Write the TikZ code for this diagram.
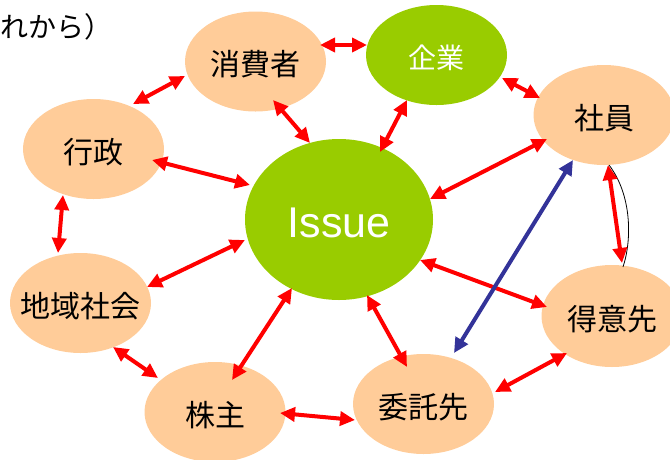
\documentclass[tikz,border=0pt]{standalone}
\usepackage{fontspec}
\setmainfont{Liberation Sans}
\newfontfamily\jp{Noto Sans CJK JP}
\usetikzlibrary{shapes.geometric,arrows.meta,calc}
\definecolor{peach}{HTML}{FFCC99}
\definecolor{leaf}{HTML}{99CC00}
\definecolor{navy}{HTML}{333399}
\begin{document}
\begin{tikzpicture}[x=1pt,y=-1pt,
  peachbox/.style={ellipse,fill=peach,inner sep=0pt,minimum width=141pt,minimum height=100pt},
  greenbox/.style={ellipse,fill=leaf,inner sep=0pt},
  jtxt/.style={font=\jp\fontsize{30}{30}\selectfont,text=black,inner sep=0pt,yshift=-3pt},
  wtxt/.style={font=\jp\fontsize{28}{28}\selectfont,text=white,inner sep=0pt,yshift=-3pt},
  itxt/.style={font=\fontsize{43}{43}\selectfont,text=white,inner sep=0pt,yshift=-3pt},
  rar/.style={red,line width=4pt,{Triangle[length=15pt,width=14pt]}-{Triangle[length=15pt,width=14pt]}},
  bar/.style={navy,line width=4pt,{Triangle[length=15pt,width=14pt]}-{Triangle[length=15pt,width=14pt]}},
  thin/.style={black,line width=0.8pt}
]
\useasboundingbox (0,0) rectangle (670,459);

% ellipses
\node[peachbox,label={[jtxt]center:消費者}] (cons) at (255.5,61.5) {};
\node[greenbox,minimum width=141pt,minimum height=100pt,label={[wtxt]center:企業}] (corp) at (436.5,55) {};
\node[peachbox,label={[jtxt]center:社員}] (emp) at (604,115) {};
\node[peachbox,label={[jtxt]center:行政}] (gov) at (93.5,149) {};
\node[greenbox,minimum width=188pt,minimum height=161pt,label={[itxt]center:Issue}] (issue) at (339,219.5) {};
\node[peachbox,label={[jtxt]center:地域社会}] (comm) at (80.5,303) {};
\node[peachbox,minimum height=102pt,label={[jtxt]center:得意先}] (cust) at (612,316) {};
\node[peachbox,label={[jtxt]center:株主}] (share) at (215,412) {};
\node[peachbox,label={[jtxt]center:委託先}] (sub) at (423.5,404) {};

% partial title text
\node[anchor=west,font=\jp\fontsize{28}{28}\selectfont,inner sep=0pt] (note) at (0,27) {れから）};

% thin connector curve
\draw[thin] ($(emp)+(5,50)$) .. controls ($(emp)+(28,80)$) and ($(cust)+(20,-76)$) .. ($(cust)+(11,-49)$);

% red arrows
\draw[rar] ($(cons)+(64.5,-16.5)$) -- ($(corp)+(-69.5,-10)$);
\draw[rar] ($(cons)+(17.5,38.5)$) -- ($(issue)+(-29,-76.5)$);
\draw[rar] ($(corp)+(-29.5,45)$) -- ($(issue)+(41,-67.5)$);
\draw[rar] ($(corp)+(65.5,23)$) -- ($(emp)+(-64,-17)$);
\draw[rar] ($(emp)+(-57,24)$) -- ($(issue)+(91,-20.5)$);
\draw[rar] ($(cons)+(-70.5,14.5)$) -- ($(gov)+(39.5,-45)$);
\draw[rar] ($(gov)+(58.5,11)$) -- ($(issue)+(-89,-34.5)$);
\draw[rar] ($(gov)+(-30.5,46)$) -- ($(comm)+(-22.5,-50)$);
\draw[rar] ($(comm)+(66.5,-16)$) -- ($(issue)+(-94,20.5)$);
\draw[rar] ($(comm)+(32.5,44)$) -- ($(share)+(-57,-34)$);
\draw[rar] ($(issue)+(-47,68.5)$) -- ($(share)+(17,-32)$);
\draw[rar] ($(share)+(65,1)$) -- ($(sub)+(-68.5,16)$);
\draw[rar] ($(issue)+(28,75.5)$) -- ($(sub)+(-16.5,-37)$);
\draw[rar] ($(sub)+(71.5,-12)$) -- ($(cust)+(-45,37)$);
\draw[rar] ($(issue)+(81,40.5)$) -- ($(cust)+(-65,-9)$);
\draw[rar] ($(emp)+(4,50)$) -- ($(cust)+(10,-53)$);

% blue arrow
\draw[bar] ($(emp)+(-31,45)$) -- ($(sub)+(30.5,-51)$);
\end{tikzpicture}
\end{document}
